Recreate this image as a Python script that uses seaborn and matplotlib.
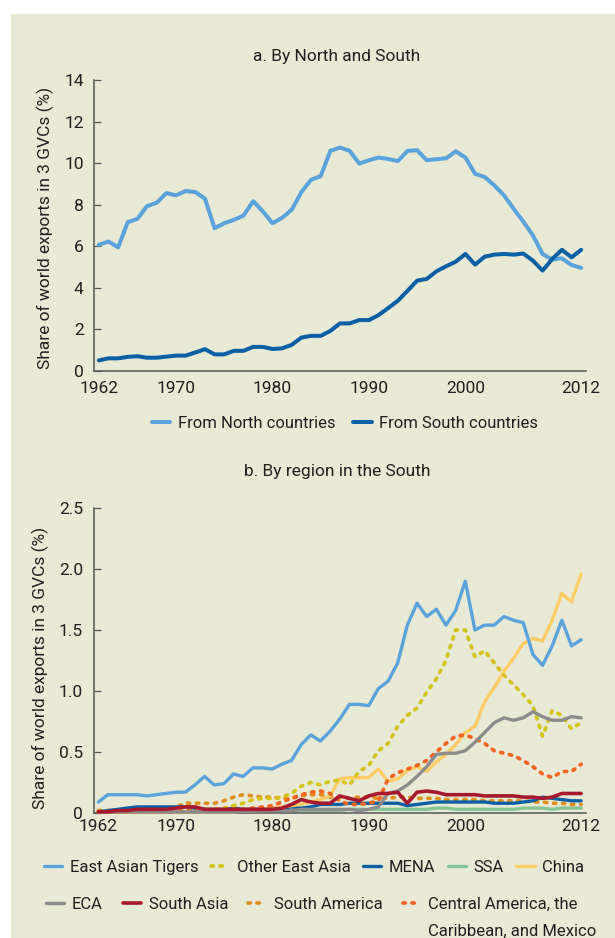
import matplotlib
matplotlib.use("Agg")
import matplotlib.pyplot as plt
import seaborn as sns
import numpy as np
from matplotlib.patches import Rectangle

# ---------------- data ----------------
years = list(range(1962, 2013))

north = [6.07, 6.23, 5.95, 7.16, 7.32, 7.93, 8.09, 8.56, 8.45, 8.66,
         8.61, 8.29, 6.87, 7.11, 7.27, 7.48, 8.17, 7.68, 7.11, 7.37,
         7.76, 8.61, 9.20, 9.38, 10.59, 10.75, 10.59, 9.98, 10.14, 10.27,
         10.20, 10.10, 10.59, 10.62, 10.14, 10.19, 10.23, 10.57, 10.27, 9.49,
         9.33, 8.93, 8.45, 7.80, 7.19, 6.52, 5.63, 5.36, 5.42, 5.10, 4.96]
south = [0.51, 0.61, 0.61, 0.68, 0.71, 0.64, 0.64, 0.69, 0.74, 0.74,
         0.89, 1.05, 0.80, 0.80, 0.97, 0.97, 1.16, 1.16, 1.06, 1.09,
         1.26, 1.61, 1.69, 1.69, 1.93, 2.29, 2.29, 2.45, 2.45, 2.69,
         3.03, 3.38, 3.86, 4.35, 4.43, 4.80, 5.04, 5.26, 5.63, 5.12,
         5.50, 5.60, 5.63, 5.60, 5.65, 5.31, 4.83, 5.39, 5.83, 5.47, 5.83]

tigers = [0.09, 0.15, 0.15, 0.15, 0.15, 0.14, 0.15, 0.16, 0.17, 0.17,
          0.23, 0.30, 0.23, 0.24, 0.32, 0.30, 0.37, 0.37, 0.36, 0.40,
          0.43, 0.56, 0.64, 0.59, 0.67, 0.77, 0.89, 0.89, 0.88, 1.02,
          1.08, 1.23, 1.54, 1.72, 1.61, 1.67, 1.54, 1.66, 1.90, 1.50,
          1.54, 1.54, 1.61, 1.58, 1.56, 1.30, 1.21, 1.37, 1.58, 1.37, 1.42]
other_east_asia = [0.01, 0.01, 0.01, 0.01, 0.01, 0.01, 0.01, 0.02, 0.02, 0.02,
                   0.02, 0.03, 0.03, 0.04, 0.06, 0.08, 0.11, 0.12, 0.12, 0.13,
                   0.16, 0.22, 0.25, 0.23, 0.26, 0.27, 0.23, 0.34, 0.39, 0.51,
                   0.57, 0.71, 0.80, 0.86, 0.99, 1.10, 1.25, 1.50, 1.50, 1.28,
                   1.33, 1.23, 1.13, 1.05, 0.97, 0.88, 0.63, 0.84, 0.80, 0.69, 0.74]
mena = [0.01, 0.02, 0.03, 0.04, 0.05, 0.05, 0.05, 0.05, 0.05, 0.05,
        0.04, 0.03, 0.03, 0.03, 0.04, 0.03, 0.03, 0.03, 0.04, 0.04,
        0.05, 0.04, 0.05, 0.07, 0.07, 0.07, 0.08, 0.08, 0.08, 0.08,
        0.08, 0.08, 0.06, 0.07, 0.08, 0.09, 0.09, 0.09, 0.09, 0.09,
        0.09, 0.08, 0.08, 0.08, 0.09, 0.10, 0.13, 0.12, 0.11, 0.10, 0.10]
ssa = [0.01, 0.01, 0.01, 0.01, 0.01, 0.01, 0.01, 0.01, 0.01, 0.01,
       0.01, 0.01, 0.01, 0.01, 0.01, 0.01, 0.02, 0.02, 0.02, 0.02,
       0.02, 0.02, 0.02, 0.02, 0.02, 0.02, 0.03, 0.03, 0.03, 0.03,
       0.03, 0.03, 0.03, 0.03, 0.03, 0.04, 0.04, 0.03, 0.03, 0.03,
       0.03, 0.03, 0.03, 0.03, 0.04, 0.04, 0.04, 0.03, 0.04, 0.04, 0.04]
china = [0.01, 0.01, 0.01, 0.01, 0.01, 0.01, 0.01, 0.01, 0.01, 0.01,
         0.01, 0.01, 0.01, 0.01, 0.01, 0.02, 0.02, 0.03, 0.04, 0.05,
         0.06, 0.07, 0.09, 0.11, 0.14, 0.28, 0.29, 0.29, 0.29, 0.36,
         0.26, 0.28, 0.35, 0.38, 0.34, 0.42, 0.48, 0.56, 0.66, 0.71,
         0.91, 1.03, 1.16, 1.27, 1.39, 1.43, 1.41, 1.58, 1.80, 1.73, 1.96]
eca = [0.01, 0.01, 0.01, 0.01, 0.01, 0.01, 0.01, 0.01, 0.01, 0.01,
       0.01, 0.01, 0.01, 0.01, 0.01, 0.01, 0.015, 0.02, 0.02, 0.02,
       0.02, 0.03, 0.03, 0.03, 0.03, 0.03, 0.03, 0.02, 0.03, 0.05,
       0.16, 0.18, 0.23, 0.30, 0.38, 0.48, 0.49, 0.49, 0.51, 0.58,
       0.66, 0.74, 0.78, 0.76, 0.78, 0.83, 0.79, 0.76, 0.76, 0.79, 0.78]
south_asia = [0.01, 0.01, 0.02, 0.02, 0.03, 0.03, 0.03, 0.03, 0.04, 0.05,
              0.05, 0.03, 0.03, 0.03, 0.03, 0.03, 0.03, 0.03, 0.03, 0.04,
              0.07, 0.11, 0.09, 0.08, 0.08, 0.14, 0.12, 0.10, 0.14, 0.16,
              0.16, 0.17, 0.08, 0.17, 0.18, 0.17, 0.15, 0.15, 0.15, 0.15,
              0.14, 0.14, 0.14, 0.14, 0.13, 0.13, 0.12, 0.13, 0.16, 0.16, 0.16]
south_america = [0.02, 0.02, 0.02, 0.03, 0.03, 0.03, 0.04, 0.04, 0.05, 0.08,
                 0.08, 0.08, 0.08, 0.10, 0.13, 0.15, 0.14, 0.13, 0.13, 0.12,
                 0.12, 0.14, 0.15, 0.15, 0.13, 0.13, 0.12, 0.13, 0.13, 0.12,
                 0.12, 0.13, 0.13, 0.12, 0.12, 0.12, 0.11, 0.11, 0.11, 0.11,
                 0.10, 0.10, 0.10, 0.10, 0.10, 0.09, 0.09, 0.08, 0.08, 0.07, 0.07]
central_america = [0.01, 0.01, 0.01, 0.01, 0.01, 0.01, 0.01, 0.01, 0.01, 0.02,
                   0.02, 0.02, 0.03, 0.03, 0.03, 0.03, 0.04, 0.05, 0.06, 0.09,
                   0.12, 0.15, 0.17, 0.18, 0.16, 0.10, 0.07, 0.07, 0.08, 0.10,
                   0.28, 0.33, 0.36, 0.39, 0.43, 0.50, 0.57, 0.63, 0.64, 0.61,
                   0.57, 0.51, 0.49, 0.47, 0.43, 0.38, 0.32, 0.29, 0.34, 0.34, 0.40]

x_tick_years = [1962, 1970, 1980, 1990, 2000, 2012]
top_yticks = [0, 2, 4, 6, 8, 10, 12, 14]
bottom_yticks = [0, 0.5, 1.0, 1.5, 2.0, 2.5]
bottom_ylabels = ["0", "0.5", "1.0", "1.5", "2.0", "2.5"]

top_names = ["From North countries", "From South countries"]
region_names = ["East Asian Tigers", "Other East Asia", "MENA", "SSA", "China",
                "ECA", "South Asia", "South America", "Central America, the"]

# ---------------- style ----------------
BG = "#E8EAD5"
AXC = "#555555"
TXT = "#231F20"
LIGHT_BLUE = "#5BA3DC"
DARK_BLUE = "#0B5FA5"

sns.set_theme(style="white")
plt.rcParams['font.family'] = ['Roboto', 'DejaVu Sans']
FS = 12.5
LFS = 12

W, H = 615, 938
def fx(px):
    return px / W
def fy(py):
    return 1 - py / H

fig = plt.figure(figsize=(W / 100, H / 100), dpi=100)
fig.patch.set_facecolor("white")
fig.patches.append(Rectangle((fx(11), 0), 1 - fx(11), fy(14), transform=fig.transFigure,
                             facecolor=BG, edgecolor="none", zorder=-10))

ax1 = fig.add_axes([fx(94), fy(371), fx(586) - fx(94), fy(80) - fy(371)])
ax2 = fig.add_axes([fx(93.5), fy(813), fx(586) - fx(93.5), fy(508) - fy(813)])


def draw(ax, vals, color, lw, name, z, dashed=False):
    sns.lineplot(x=years, y=vals, ax=ax, color=color, linewidth=lw, legend=False,
                 zorder=z)
    ln = ax.lines[-1]
    ln.set_label(name)
    ln.set_clip_on(False)
    ln.set_solid_joinstyle("round")
    if dashed:
        ln.set_dashes([0.6, 1.8])
        ln.set_dash_capstyle("round")
    return ln

# ---------------- panel a ----------------
h_top = [draw(ax1, north, LIGHT_BLUE, 2.9, top_names[0], 3),
         draw(ax1, south, DARK_BLUE, 2.9, top_names[1], 4)]

# ---------------- panel b ----------------
specs = [
    (tigers, LIGHT_BLUE, False, 10, 2.4),
    (other_east_asia, "#D6C31A", True, 6, 2.7),
    (mena, DARK_BLUE, False, 4, 2.4),
    (ssa, "#86C49A", False, 2, 2.4),
    (china, "#FFCC66", False, 5, 2.4),
    (eca, "#8C8C8C", False, 8, 2.4),
    (south_asia, "#A6192E", False, 9, 2.6),
    (south_america, "#E0901E", True, 3, 2.7),
    (central_america, "#F26522", True, 7, 2.7),
]
h_bot = []
for (vals, col, dsh, z, lw), name in zip(specs, region_names):
    h_bot.append(draw(ax2, vals, col, lw, name, z, dashed=dsh))

# ---------------- axes cosmetics ----------------
for ax, yt, ylab, ylim, xpad in ((ax1, top_yticks, [str(v) for v in top_yticks], (0, 14), 7),
                                 (ax2, bottom_yticks, bottom_ylabels, (0, 2.5), 4)):
    ax.set_facecolor("none")
    ax.set_xlim(1961.5, 2012.5)
    ax.set_ylim(*ylim)
    ax.set_xlabel("")
    ax.set_ylabel("")
    for s in ("top", "right"):
        ax.spines[s].set_visible(False)
    for s in ("left", "bottom"):
        ax.spines[s].set_color(AXC)
        ax.spines[s].set_linewidth(1.1)
    ax.set_xticks(x_tick_years)
    ax.set_xticklabels([str(v) for v in x_tick_years])
    ax.set_xticks(np.arange(1961.5, 2013.0, 1.0), minor=True)
    ax.set_yticks(yt)
    ax.set_yticklabels(ylab)
    ax.tick_params(axis="x", which="major", length=0, pad=xpad, labelsize=FS, labelcolor=TXT)
    ax.tick_params(axis="x", which="minor", direction="in", length=5.5, width=0.9, color=AXC)
    ax.tick_params(axis="y", which="major", direction="in", length=5, width=0.9, color=AXC,
                   pad=7.5, labelsize=FS, labelcolor=TXT, left=True)
    ax.grid(False)

# ---------------- titles and labels ----------------
fig.text(fx(337), fy(57), "a. By North and South", ha="center", va="center", fontsize=FS, color=TXT)
fig.text(fx(337), fy(471), "b. By region in the South", ha="center", va="center", fontsize=FS, color=TXT)
fig.text(fx(45), fy(228), "Share of world exports in 3 GVCs (%)", rotation=90,
         ha="center", va="center", fontsize=FS, color=TXT)
fig.text(fx(40), fy(668), "Share of world exports in 3 GVCs (%)", rotation=90,
         ha="center", va="center", fontsize=FS, color=TXT)

# ---------------- legends ----------------
leg_kw = dict(frameon=False, fontsize=LFS, handlelength=1.1, handletextpad=0.45,
              columnspacing=0.75, borderpad=0, borderaxespad=0, labelcolor=TXT)
fig.legend(h_top, top_names, loc="center", bbox_to_anchor=(fx(345), fy(423)), ncol=2,
           **dict(leg_kw, columnspacing=1.1))
fig.legend(h_bot[:5], region_names[:5], loc="center", bbox_to_anchor=(fx(314), fy(867)), ncol=5, **leg_kw)
leg3 = fig.legend(h_bot[5:], region_names[5:], loc="center", bbox_to_anchor=(fx(312), fy(904)), ncol=4,
                  **dict(leg_kw, columnspacing=1.2))

fig.canvas.draw()
x0 = leg3.get_texts()[-1].get_window_extent().x0 / fig.bbox.width
fig.text(x0, fy(931), "Caribbean, and Mexico", ha="left", va="center", fontsize=LFS, color=TXT)

fig.savefig("out.png", dpi=100, facecolor=fig.get_facecolor())
